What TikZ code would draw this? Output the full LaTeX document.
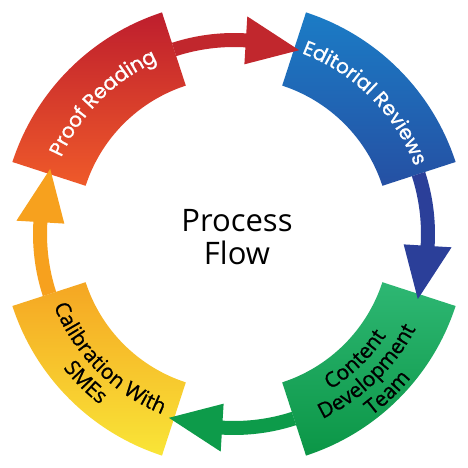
\documentclass[tikz,border=0pt]{standalone}
\usepackage{fontspec}
\setmainfont{Open Sans}
\newfontfamily\poppinsfont[FakeBold=1.2]{Poppins}
\newfontfamily\opensfont[FakeBold=0.8]{Open Sans}
\newfontfamily\centrefont{Open Sans}
\usetikzlibrary{decorations.text}
\definecolor{redTop}{HTML}{BE1E2D}
\definecolor{redBot}{HTML}{EF5A2A}
\definecolor{blueTop}{HTML}{1B7CC6}
\definecolor{blueBot}{HTML}{2550A3}
\definecolor{greenTop}{HTML}{2EB773}
\definecolor{greenBot}{HTML}{0B9646}
\definecolor{yelTop}{HTML}{F5A623}
\definecolor{yelBot}{HTML}{F9E537}
\definecolor{arrRed}{HTML}{C1272D}
\definecolor{arrBlue}{HTML}{2B3F99}
\definecolor{arrGreen}{HTML}{0D9B4A}
\definecolor{arrOrange}{HTML}{F7A11E}
\tikzset{
  whitelabel/.style={decorate, decoration={text along path, text align=center,
      text={|\poppinsfont\fontsize{20}{22}\selectfont\color{white}|#1}}},
  blacklabel/.style={decorate, decoration={text along path, text align=center,
      text={|\opensfont\fontsize{21}{22}\selectfont\color{black}|#1}}},
}
\begin{document}
\begin{tikzpicture}
\useasboundingbox (-234pt,-234pt) rectangle (234pt,234pt);
% blocks
\foreach \aa/\ctop/\cbot in {108/redTop/redBot, 18/blueTop/blueBot, -72/greenTop/greenBot, 198/yelTop/yelBot}{
  \shade[top color=\ctop, bottom color=\cbot]
    (\aa:156pt) -- (\aa:233pt) arc[start angle=\aa, delta angle=54, radius=233pt]
    -- ({\aa+54}:156pt) arc[start angle=\aa+54, delta angle=-54, radius=156pt] -- cycle;
}
% arrows
\foreach \startang/\col in {108/arrRed, 18/arrBlue, -72/arrGreen, 198/arrOrange}{
  \pgfmathsetmacro\baseang{\startang-21.5}
  \pgfmathsetmacro\tipang{\startang-37.5}
  \fill[\col] (\startang:187pt) arc[start angle=\startang, end angle=\baseang, radius=187pt]
    -- (\baseang:170pt) -- (\tipang:195pt) -- (\baseang:218pt) -- (\baseang:201pt)
    arc[start angle=\baseang, end angle=\startang, radius=201pt] -- cycle;
}
% labels
\path[whitelabel={Proof Reading}] (175:189pt) arc[start angle=175, end angle=95, radius=189pt];
\path[whitelabel={Editorial Reviews}] (85:193pt) arc[start angle=85, end angle=5, radius=193pt];
\path[blacklabel={Content}] (-86:183pt) arc[start angle=-86, end angle=-6, radius=183pt];
\path[blacklabel={Development}] (-86:205pt) arc[start angle=-86, end angle=-6, radius=205pt];
\path[blacklabel={Team}] (-86:228pt) arc[start angle=-86, end angle=-6, radius=228pt];
\path[blacklabel={Calibration With}] (185:194pt) arc[start angle=185, end angle=265, radius=194pt];
\path[blacklabel={SMEs}] (185:217pt) arc[start angle=185, end angle=265, radius=217pt];
% centre
\node[anchor=base, font=\centrefont\fontsize{31}{33}\selectfont, inner sep=0pt] (process) at (3pt,2pt) {Process};
\node[anchor=base, font=\centrefont\fontsize{31}{33}\selectfont, inner sep=0pt] (flow) at (3pt,-31pt) {Flow};
\end{tikzpicture}
\end{document}
